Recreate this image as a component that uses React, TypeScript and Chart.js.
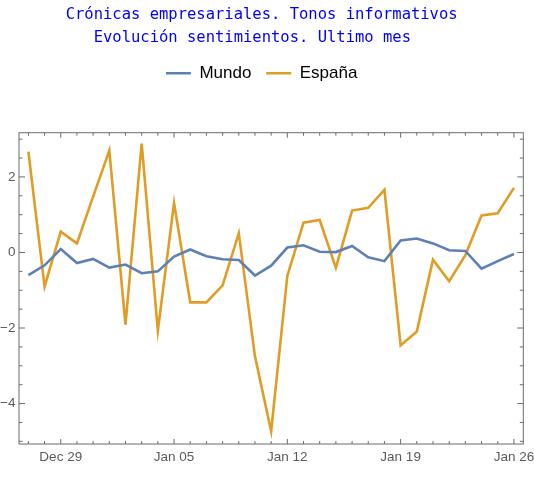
import React, { useEffect, useRef } from 'react';
import { Chart, registerables } from 'chart.js';

Chart.register(...registerables);

// ---- data ----
const dates = [
  'Dec 27', 'Dec 28', 'Dec 29', 'Dec 30', 'Dec 31', 'Jan 01', 'Jan 02', 'Jan 03',
  'Jan 04', 'Jan 05', 'Jan 06', 'Jan 07', 'Jan 08', 'Jan 09', 'Jan 10', 'Jan 11',
  'Jan 12', 'Jan 13', 'Jan 14', 'Jan 15', 'Jan 16', 'Jan 17', 'Jan 18', 'Jan 19',
  'Jan 20', 'Jan 21', 'Jan 22', 'Jan 23', 'Jan 24', 'Jan 25', 'Jan 26',
];
const mundo = [
  -0.60, -0.34, 0.09, -0.28, -0.17, -0.40, -0.32, -0.55, -0.50, -0.11, 0.08,
  -0.10, -0.18, -0.20, -0.61, -0.35, 0.13, 0.19, 0.02, 0.01, 0.17, -0.13,
  -0.23, 0.32, 0.37, 0.24, 0.06, 0.04, -0.43, -0.23, -0.04,
];
const espana = [
  2.67, -0.90, 0.55, 0.24, 1.48, 2.70, -1.91, 2.88, -2.07, 1.31, -1.32,
  -1.32, -0.87, 0.51, -2.75, -4.73, -0.62, 0.79, 0.86, -0.41, 1.11, 1.18,
  1.66, -2.46, -2.09, -0.19, -0.76, -0.07, 0.98, 1.04, 1.71,
];
const seriesNames = ['Mundo', 'España'];
const xTickLabels = ['Dec 29', 'Jan 05', 'Jan 12', 'Jan 19', 'Jan 26'];
const yTickValues = [-4, -2, 0, 2];
const yMinorStep = 0.5;
const titleLines = [
  'Crónicas empresariales. Tonos informativos',
  'Evolución sentimientos. Ultimo mes  ',
];

const COLORS = ['#5E81B5', '#E19C24'];
const FRAME = '#6b6b6b';

const framePlugin = {
  id: 'mmaFrame',
  beforeLayout(chart: any) {
    const lg = chart.legend;
    if (lg && !lg.__patched) {
      const orig = lg.fit;
      lg.fit = function () {
        orig.call(this);
        this.height = 82.8;
      };
      lg.__patched = true;
    }
  },
  afterDatasetsDraw(chart: any) {
    const { ctx, chartArea: a, scales } = chart;
    const x = scales.x;
    const y = scales.y;
    ctx.save();
    ctx.strokeStyle = FRAME;
    ctx.lineWidth = 1;
    ctx.strokeRect(a.left, a.top, a.right - a.left, a.bottom - a.top);
    ctx.beginPath();
    dates.forEach((d, i) => {
      const px = x.getPixelForValue(i);
      const len = xTickLabels.includes(d) ? 5 : 3;
      ctx.moveTo(px, a.bottom);
      ctx.lineTo(px, a.bottom - len);
      ctx.moveTo(px, a.top);
      ctx.lineTo(px, a.top + len);
    });
    const start = Math.ceil(y.min / yMinorStep) * yMinorStep;
    for (let v = start; v <= y.max + 1e-9; v += yMinorStep) {
      const py = y.getPixelForValue(v);
      const major = yTickValues.some((t) => Math.abs(t - v) < 1e-6);
      const len = major ? 6 : 3.5;
      ctx.moveTo(a.left, py);
      ctx.lineTo(a.left + len, py);
      ctx.moveTo(a.right, py);
      ctx.lineTo(a.right - len, py);
    }
    ctx.stroke();
    ctx.restore();
  },
};

export default function App() {
  const ref = useRef<HTMLCanvasElement | null>(null);

  useEffect(() => {
    if (!ref.current) return;
    const xTickIdx = xTickLabels.map((l) => dates.indexOf(l));
    const chart = new Chart(ref.current, {
      type: 'line',
      data: {
        datasets: [
          {
            label: seriesNames[0],
            data: mundo.map((v, i) => ({ x: i, y: v })),
            borderColor: COLORS[0],
            backgroundColor: COLORS[0],
            borderWidth: 2.6,
            pointRadius: 0,
            tension: 0,
          },
          {
            label: seriesNames[1],
            data: espana.map((v, i) => ({ x: i, y: v })),
            borderColor: COLORS[1],
            backgroundColor: COLORS[1],
            borderWidth: 2.6,
            pointRadius: 0,
            tension: 0,
          },
        ],
      },
      plugins: [framePlugin],
      options: {
        animation: false,
        responsive: false,
        layout: { padding: { left: 0, right: 10.7, top: 0, bottom: 0 } },
        plugins: {
          title: {
            display: true,
            text: titleLines,
            color: '#0000ff',
            font: { family: 'DejaVu Sans Mono', size: 15.5, weight: 'normal', lineHeight: 1.51 },
            padding: { top: 3.1, bottom: 0 },
          },
          legend: {
            display: true,
            position: 'top',
            labels: {
              usePointStyle: true,
              pointStyle: 'line',
              pointStyleWidth: 25,
              padding: 14.8,
              color: '#000',
              font: { family: 'Liberation Sans', size: 17 },
            },
          },
          tooltip: { enabled: false },
        },
        scales: {
          x: {
            type: 'linear',
            bounds: 'data',
            min: -0.58,
            max: dates.length - 1 + 0.58,
            grid: { display: false, drawTicks: false },
            border: { display: false },
            afterBuildTicks: (scale: any) => {
              scale.ticks = xTickIdx.map((v) => ({ value: v }));
            },
            afterFit: (scale: any) => {
              scale.height = 53;
              scale.paddingLeft = 0;
              scale.paddingRight = 0;
            },
            ticks: {
              autoSkip: false,
              maxRotation: 0,
              minRotation: 0,
              padding: 5,
              color: '#5a5a5a',
              font: { family: 'Liberation Sans', size: 13.5 },
              callback: (value: any) => dates[Number(value)] ?? '',
            },
          },
          y: {
            type: 'linear',
            bounds: 'data',
            min: -5.07,
            max: 3.17,
            grid: { display: false, drawTicks: false },
            border: { display: false },
            afterBuildTicks: (scale: any) => {
              scale.ticks = yTickValues.map((v) => ({ value: v }));
            },
            afterFit: (scale: any) => {
              scale.width = 19;
              scale.paddingTop = 0;
              scale.paddingBottom = 0;
            },
            ticks: {
              padding: 3.5,
              color: '#5a5a5a',
              font: { family: 'Liberation Sans', size: 13.5 },
              callback: (value: any) => {
                const n = Number(value);
                return n < 0 ? '\u2212' + Math.abs(n) : String(n);
              },
            },
          },
        },
      } as any,
    });
    return () => chart.destroy();
  }, []);

  return (
    <div style={{ position: 'fixed', left: 0, top: 0, width: 534, height: 497, background: '#fff' }}>
      <canvas ref={ref} width={534} height={497} />
    </div>
  );
}
